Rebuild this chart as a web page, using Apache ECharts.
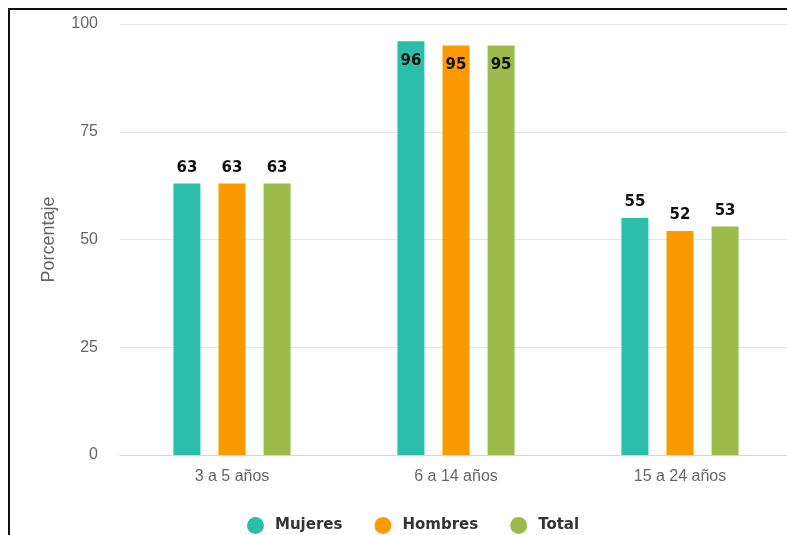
<!DOCTYPE html>
<html lang="es">
<head>
    <meta charset="utf-8">
    <title>Porcentaje por grupo de edad</title>
    <script type="text/javascript" src="https://cdn.jsdelivr.net/npm/echarts@6/dist/echarts.min.js"></script>
    <style>
        html, body { margin: 0; padding: 0; background: #fff; overflow: hidden; }
        #frame { position: absolute; left: 8px; top: 8px; width: 900px; height: 700px;
                 border-left: 2px solid #111; border-top: 2px solid #111; }
        #main { position: absolute; left: 0; top: 0; width: 800px; height: 535px; }
    </style>
</head>
<body>
<div id="frame"></div>
<div id="main"></div>
<script>
    // datos
    var categorias = ['3 a 5 años', '6 a 14 años', '15 a 24 años'];
    var mujeres = [63, 96, 55];
    var hombres = [63, 95, 52];
    var total = [63, 95, 53];
    var ticksY = [0, 25, 50, 75, 100];

    var colores = ['#2bbfab', '#fd9a00', '#9dbb4b'];

    // etiquetas que no caben arriba van dentro de la barra
    function conEtiquetas(valores) {
        return valores.map(function (v) {
            if (v >= 95) {
                return { value: v, label: { position: 'insideTop', distance: 12 } };
            }
            return v;
        });
    }

    var etiqueta = {
        show: true,
        position: 'top',
        distance: 8,
        color: '#111',
        fontFamily: 'DejaVu Sans',
        fontWeight: 'bold',
        fontSize: 15
    };

    function serie(nombre, valores) {
        return {
            name: nombre,
            type: 'bar',
            barWidth: 27,
            barGap: '67%',
            data: conEtiquetas(valores),
            label: etiqueta
        };
    }

    var myChart = echarts.init(document.getElementById('main'));
    var option = {
        animation: false,
        color: colores,
        grid: { left: 120, right: 8, top: 24, bottom: 80 },
        legend: {
            left: 242,
            top: 512,
            icon: 'circle',
            itemWidth: 17,
            itemHeight: 17,
            itemGap: 32,
            textStyle: {
                color: '#333',
                fontFamily: 'DejaVu Sans',
                fontWeight: 'bold',
                fontSize: 15,
                padding: [0, 0, 0, 6]
            },
            data: ['Mujeres', 'Hombres', 'Total']
        },
        xAxis: {
            type: 'category',
            data: categorias,
            axisLine: { lineStyle: { color: '#ccd6eb', width: 1 } },
            axisTick: { show: false },
            axisLabel: { color: '#666', fontFamily: 'Liberation Sans', fontSize: 16, margin: 14 }
        },
        yAxis: {
            type: 'value',
            min: ticksY[0],
            max: ticksY[ticksY.length - 1],
            interval: 25,
            name: 'Porcentaje',
            nameLocation: 'middle',
            nameGap: 62,
            nameTextStyle: { color: '#666', fontFamily: 'Liberation Sans', fontSize: 18 },
            axisLabel: { color: '#666', fontFamily: 'Liberation Sans', fontSize: 16, margin: 22 },
            splitLine: { lineStyle: { color: '#e6e6e6' } }
        },
        series: [
            serie('Mujeres', mujeres),
            serie('Hombres', hombres),
            serie('Total', total)
        ]
    };
    myChart.setOption(option);
</script>
</body>
</html>
